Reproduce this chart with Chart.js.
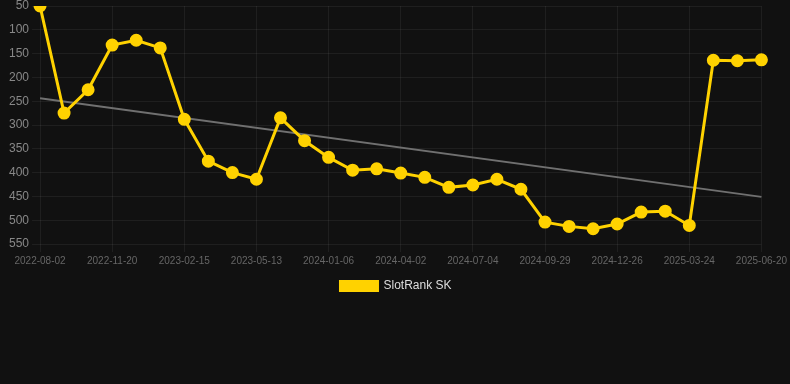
<!DOCTYPE html>
<html>
<head>
<meta charset="utf-8">
<script src="https://cdn.jsdelivr.net/npm/chart.js@4"></script>
<style>
  html, body { margin: 0; padding: 0; background: #111111; }
  #wrap { width: 790px; height: 302px; }
</style>
</head>
<body>
<div id="wrap"><canvas id="myChart"></canvas></div>
<script>
var dates = [
  '2022-08-02', '2022-09-08', '2022-10-14', '2022-11-20', '2022-12-19', '2023-01-17',
  '2023-02-15', '2023-03-16', '2023-04-14', '2023-05-13', '2023-08-01', '2023-10-20',
  '2024-01-06', '2024-02-04', '2024-03-04', '2024-04-02', '2024-05-03', '2024-06-03',
  '2024-07-04', '2024-08-02', '2024-08-31', '2024-09-29', '2024-10-28', '2024-11-27',
  '2024-12-26', '2025-01-24', '2025-02-22', '2025-03-24', '2025-04-22', '2025-05-21',
  '2025-06-20'
];
var ranks = [
  50, 275, 226, 132, 122, 138,
  288, 376, 400, 414, 285, 333,
  368, 395, 392, 401, 410, 431,
  426, 414, 435, 504, 513, 518,
  508, 483, 481, 511, 164, 165,
  163
];
var trendEnds = [244, 451];
var yTicks = [50, 100, 150, 200, 250, 300, 350, 400, 450, 500, 550];

var trend = [
  { x: dates[0], y: trendEnds[0] },
  { x: dates[dates.length - 1], y: trendEnds[1] }
];

var ctx = document.getElementById('myChart').getContext('2d');
var myChart = new Chart(ctx, {
  type: 'line',
  data: {
    labels: dates,
    datasets: [{
      label: 'SlotRank SK',
      data: ranks,
      borderColor: '#FFD200',
      backgroundColor: '#FFD200',
      borderWidth: 3,
      pointRadius: 5,
      pointHoverRadius: 6,
      tension: 0
    }, {
      label: 'trend',
      data: trend,
      borderColor: '#707070',
      backgroundColor: '#707070',
      borderWidth: 2,
      pointRadius: 0,
      tension: 0
    }]
  },
  options: {
    responsive: true,
    maintainAspectRatio: false,
    animation: false,
    layout: { autoPadding: false, padding: { top: 5, left: 6, right: 4 } },
    scales: {
      x: {
        grid: {
          color: function (c) {
            return c.index % 3 === 0 ? 'rgba(255,255,255,0.06)' : 'rgba(0,0,0,0)';
          }
        },
        border: { display: false },
        ticks: {
          color: '#666666',
          font: { size: 10, family: 'Arial, Liberation Sans' },
          autoSkip: false,
          maxRotation: 0,
          callback: function (value, index) {
            return index % 3 === 0 ? dates[index] : '';
          }
        }
      },
      y: {
        reverse: true,
        min: 50,
        max: 550,
        afterBuildTicks: function (axis) {
          axis.ticks = yTicks.map(function (v) { return { value: v }; });
        },
        grid: { color: 'rgba(255,255,255,0.06)' },
        border: { display: false },
        ticks: {
          color: '#888888',
          font: { size: 12, family: 'Arial, Liberation Sans', lineHeight: 0.5 }
        }
      }
    },
    plugins: {
      legend: {
        position: 'bottom',
        labels: {
          color: '#dddddd',
          boxWidth: 37,
          boxHeight: 9,
          font: { size: 12, family: 'Arial, Liberation Sans' },
          filter: function (item) { return item.text !== 'trend'; }
        }
      },
      tooltip: { enabled: false }
    }
  }
});
</script>
</body>
</html>
